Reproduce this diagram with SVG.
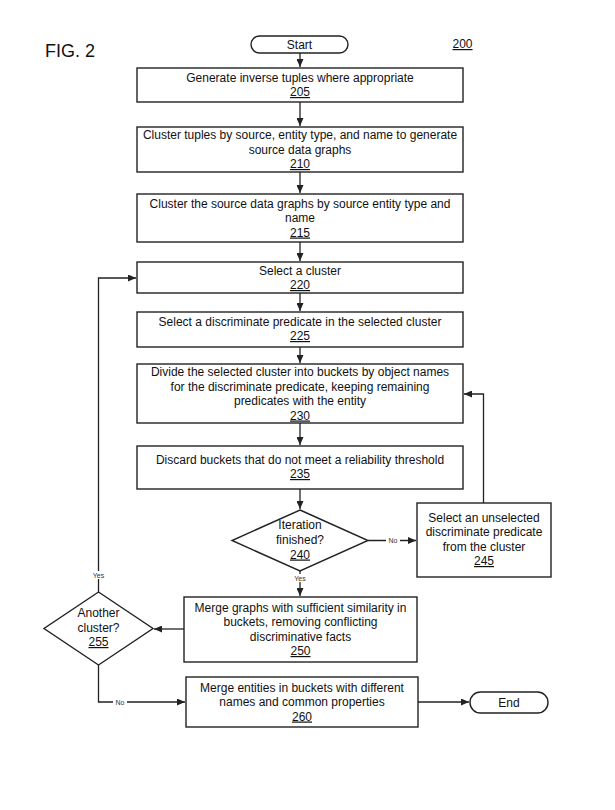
<svg xmlns="http://www.w3.org/2000/svg" width="615" height="810" viewBox="0 0 615 810">
<style>
.box{fill:#fff;stroke:#222;stroke-width:1.4}
.t{font-family:"Liberation Sans",Arial,sans-serif;font-size:12px;fill:#111;text-anchor:middle}
.n{text-decoration:underline}
.c{fill:none;stroke:#222;stroke-width:1.3}
.lbl{font-family:"Liberation Sans",Arial,sans-serif;font-size:7px;fill:#333;text-anchor:middle}
.bg{fill:#fff;stroke:none}
</style>
<defs>
<marker id="ah" markerUnits="userSpaceOnUse" markerWidth="8" markerHeight="7" refX="8" refY="3.5" orient="auto">
<path d="M0,0 L8,3.5 L0,7 z" fill="#222"/>
</marker>
</defs>
<rect width="615" height="810" fill="#fff"/>
<text x="45" y="57" font-family="'Liberation Sans',Arial,sans-serif" font-size="18" fill="#111">FIG. 2</text>
<text x="462.5" y="48" class="t n">200</text>

<g id="connectors">
<path class="c" d="M300,53 V67" marker-end="url(#ah)"/>
<path class="c" d="M300,102 V126" marker-end="url(#ah)"/>
<path class="c" d="M300,172 V193" marker-end="url(#ah)"/>
<path class="c" d="M300,242 V261" marker-end="url(#ah)"/>
<path class="c" d="M300,293 V311" marker-end="url(#ah)"/>
<path class="c" d="M300,347 V363" marker-end="url(#ah)"/>
<path class="c" d="M300,423 V445" marker-end="url(#ah)"/>
<path class="c" d="M300,489 V509" marker-end="url(#ah)"/>
<path class="c" d="M368,540.5 H416" marker-end="url(#ah)"/>
<path class="c" d="M300,571 V596" marker-end="url(#ah)"/>
<path class="c" d="M483.5,503 V394 H464" marker-end="url(#ah)"/>
<path class="c" d="M184,629 H154" marker-end="url(#ah)"/>
<path class="c" d="M98.5,592 V278 H136" marker-end="url(#ah)"/>
<path class="c" d="M98.5,665 V702 H185" marker-end="url(#ah)"/>
<path class="c" d="M418,702 H469" marker-end="url(#ah)"/>
<rect class="bg" x="386" y="536" width="14" height="8"/>
<text class="lbl" x="393" y="543">No</text>
<rect class="bg" x="292" y="574" width="16" height="8"/>
<text class="lbl" x="300" y="581">Yes</text>
<rect class="bg" x="90" y="571" width="17" height="8"/>
<text class="lbl" x="98.5" y="578">Yes</text>
<rect class="bg" x="113" y="698" width="14" height="8"/>
<text class="lbl" x="120" y="704.5">No</text>
</g>

<g id="start">
<rect class="box" x="251" y="36" width="97" height="17" rx="8.5"/>
<text class="t" x="299.5" y="49">Start</text>
</g>
<g id="n205">
<rect class="box" x="137" y="68" width="326" height="34"/>
<text class="t" x="300" y="81.5">Generate inverse tuples where appropriate</text>
<text class="t n" x="300" y="96">205</text>
</g>
<g id="n210">
<rect class="box" x="137" y="127" width="326" height="45"/>
<text class="t" x="300" y="139">Cluster tuples by source, entity type, and name to generate</text>
<text class="t" x="300" y="153.5">source data graphs</text>
<text class="t n" x="300" y="168">210</text>
</g>
<g id="n215">
<rect class="box" x="137" y="194" width="326" height="48"/>
<text class="t" x="300" y="207.5">Cluster the source data graphs by source entity type and</text>
<text class="t" x="300" y="222">name</text>
<text class="t n" x="300" y="236.5">215</text>
</g>
<g id="n220">
<rect class="box" x="137" y="262" width="326" height="31"/>
<text class="t" x="300" y="274.5">Select a cluster</text>
<text class="t n" x="300" y="289">220</text>
</g>
<g id="n225">
<rect class="box" x="137" y="312" width="326" height="35"/>
<text class="t" x="300" y="325.5">Select a discriminate predicate in the selected cluster</text>
<text class="t n" x="300" y="340">225</text>
</g>
<g id="n230">
<rect class="box" x="137" y="364" width="326" height="59"/>
<text class="t" x="300" y="376">Divide the selected cluster into buckets by object names</text>
<text class="t" x="300" y="390.5">for the discriminate predicate, keeping remaining</text>
<text class="t" x="300" y="405">predicates with the entity</text>
<text class="t n" x="300" y="419.5">230</text>
</g>
<g id="n235">
<rect class="box" x="137" y="446" width="326" height="43"/>
<text class="t" x="300" y="463.5">Discard buckets that do not meet a reliability threshold</text>
<text class="t n" x="300" y="478">235</text>
</g>
<g id="n240">
<polygon class="box" points="300,510 368,540.5 300,571 232,540.5"/>
<text class="t" x="300" y="528.5">Iteration</text>
<text class="t" x="300" y="543.5">finished?</text>
<text class="t n" x="300" y="558.5">240</text>
</g>
<g id="n245">
<rect class="box" x="417" y="503" width="134" height="74"/>
<text class="t" x="484" y="521.5">Select an unselected</text>
<text class="t" x="484" y="536">discriminate predicate</text>
<text class="t" x="484" y="550.5">from the cluster</text>
<text class="t n" x="484" y="565">245</text>
</g>
<g id="n250">
<rect class="box" x="184" y="597" width="233" height="65"/>
<text class="t" x="300.5" y="611.5">Merge graphs with sufficient similarity in</text>
<text class="t" x="300.5" y="626">buckets, removing conflicting</text>
<text class="t" x="300.5" y="640.5">discriminative facts</text>
<text class="t n" x="300.5" y="655">250</text>
</g>
<g id="n255">
<polygon class="box" points="98.5,592 153,628.5 98.5,665 44,628.5"/>
<text class="t" x="98.5" y="617">Another</text>
<text class="t" x="98.5" y="631.5">cluster?</text>
<text class="t n" x="98.5" y="646">255</text>
</g>
<g id="n260">
<rect class="box" x="186" y="677" width="232" height="50"/>
<text class="t" x="302" y="691.5">Merge entities in buckets with different</text>
<text class="t" x="302" y="706">names and common properties</text>
<text class="t n" x="302" y="720.5">260</text>
</g>
<g id="end">
<rect class="box" x="470" y="692" width="78" height="21" rx="10.5"/>
<text class="t" x="509" y="706.5">End</text>
</g>
</svg>
